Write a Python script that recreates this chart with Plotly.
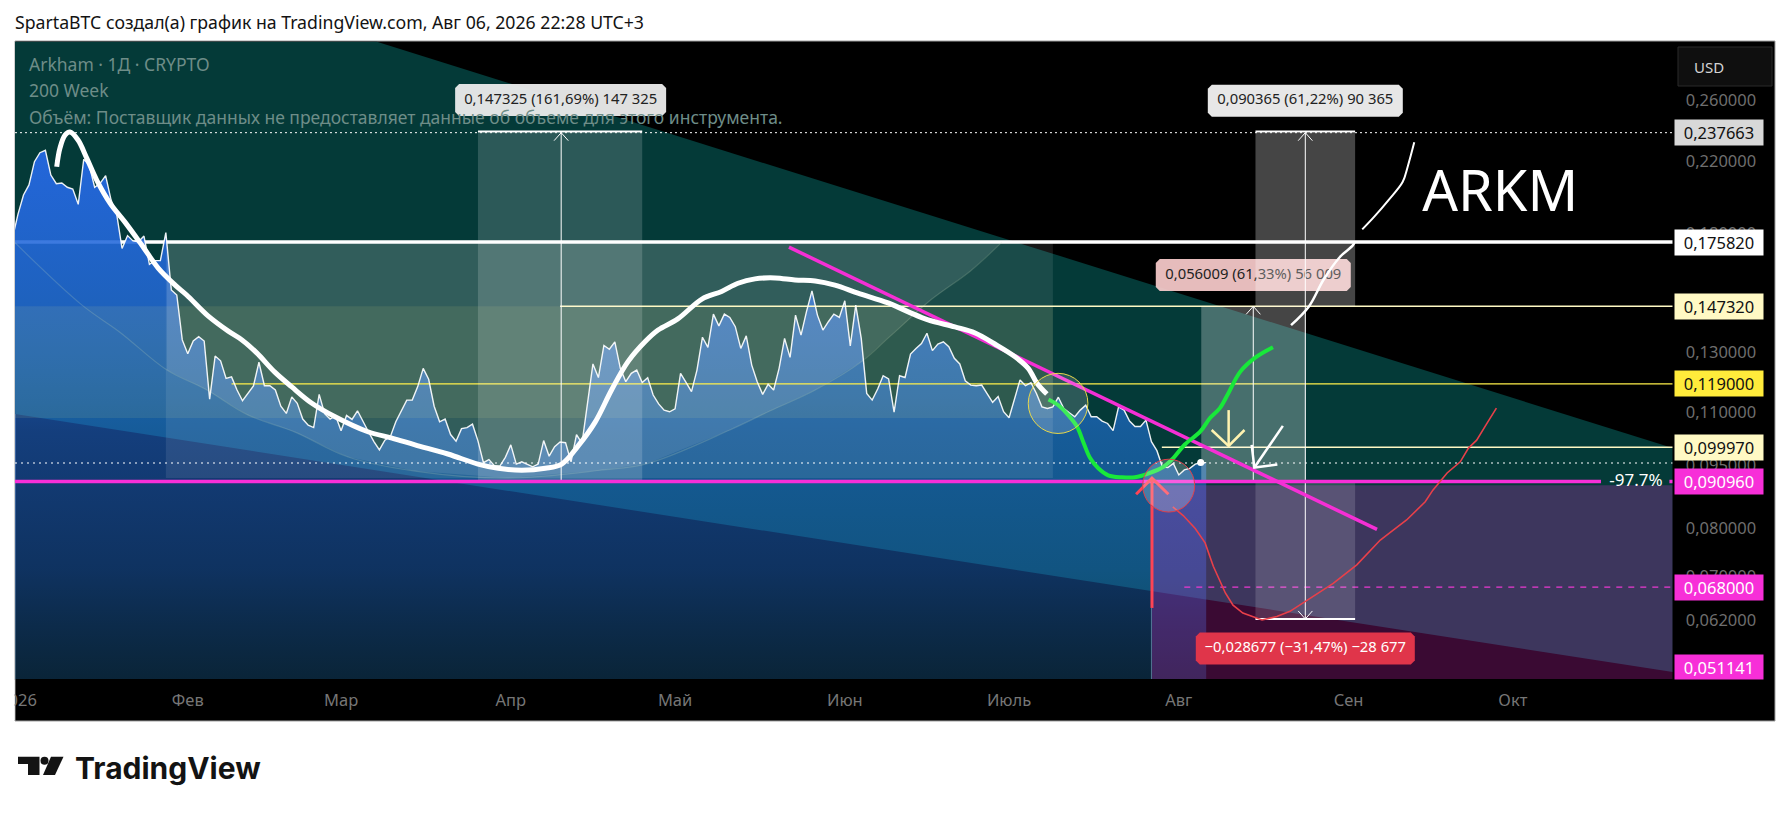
import math
import pandas as pd
import plotly.graph_objects as go

W, H = 1791, 814
PANE_L, PANE_R, PANE_T, PANE_B = 15, 1672.7, 41.5, 679
FONT = "Noto Sans"
START = pd.Timestamp("2026-01-01")

# daily close, starts Dec 31
close = [
    .1780, .1899, .2002, .2058, .2194, .2249, .2264, .2115, .2065, .2069, .2045, .2035, .1951, .2209, .2174,
    .2045, .2067, .2111, .1974, .1903, .1728, .1790, .1764, .1760, .1788, .1654, .1671, .1671, .1805, .1541,
    .1520, .1343, .1293, .1339, .1355, .1339, .1141, .1285, .1268, .1208, .1213, .1170, .1136, .1159, .1183,
    .1263, .1184, .1184, .1170, .1119, .1097, .1148, .1128, .1080, .1062, .1055, .1156, .1096, .1080, .1090,
    .1046, .1091, .1079, .1105, .1072, .1043, .1015, .0992, .1019, .1029, .1072, .1105, .1138, .1138,
    .1181, .1242, .1205, .1119, .1072, .1080, .1035, .1016, .1052, .1055, .1065, .1017, .0958, .0966, .0950,
    .0949, .0972, .1006, .0954, .0960, .0954, .0947, .0954, .1018, .0975, .1001, .1014, .1012, .0960, .1035,
    .1010, .1128, .1257, .1211, .1323, .1309, .1336, .1242, .1197, .1225, .1236, .1194, .1210, .1154, .1126,
    .1107, .1102, .1111, .1225, .1195, .1165, .1236, .1353, .1316, .1442, .1396, .1442, .1429, .1393, .1312,
    .1358, .1253, .1197, .1156, .1189, .1170, .1242, .1349, .1280, .1438, .1361, .1452, .1537,
    .1438, .1380, .1412, .1442, .1429, .1496, .1321, .1478, .1349, .1159, .1138, .1173, .1217, .1206, .1101,
    .1217, .1211, .1292, .1312, .1330, .1368, .1304, .1328, .1336, .1318, .1277, .1257, .1200, .1186, .1184,
    .1186, .1157, .1131, .1149, .1102, .1084, .1143, .1203, .1184, .1194, .1159, .1117, .1112, .1117, .1147,
    .1112, .1099, .1087, .1107, .1122, .1087, .1087, .1074, .1067, .1046, .1117, .1107, .1074, .1058, .1058,
    .1077, .1015, .0990, .0947, .0945, .0956, .0926, .0939, .0943, .0954, .0958, .0958,
]

# levels
top_level = .237663
white_level = .175820
cream_level = .147320
yellow_level = .119000
cream_low_level = .099970
pink_level = .090960
last_level = .0957
dash_level = .068000
floor_level = .051141
down_target = .062283

# drawings, x in days after Jan 1
white_day = [7.07, 7.67, 8.58, 9.5, 10.96, 12.55, 14.37, 16.8, 19.5, 22.6, 25.6, 28.7, 30.8, 34.7, 38.4, 40.9, 43.6,
             46.9, 50, 53.6, 57.9, 63.9, 68.3, 72.5, 78.5, 84, 87.7, 92, 96.3, 99.3, 102.3, 105.4, 108.4, 111.4,
             114.5, 116.9, 120.5, 124.9, 128.5, 131.5, 134.6, 138.3, 141.9, 145.6, 149.2, 153.4, 158.9, 162.6,
             166.2, 171.1, 174.8, 178.4, 182.1, 184.5, 186.1, 187.9]
white_price = [.2164, .2279, .2361, .2381, .2329, .2216, .2086, .1958, .1859, .1744, .1637, .1562, .1520, .1435, .1376,
               .1343, .1296, .1229, .1180, .1129, .1087, .1043, .1025, .1006, .0981, .0954, .0943, .0938, .0943, .0954,
               .1003, .1071, .1170, .1265, .1336, .1380, .1423, .1503, .1535, .1570, .1589, .1593, .1584, .1580, .1562,
               .1528, .1487, .1451, .1419, .1392, .1369, .1328, .1282, .1242, .1192, .1157]

sketch_day = [232.5, 235.8, 238.4, 241.5, 243.7, 244.1]
sketch_price = [.1399, .1474, .1584, .1690, .1740, .1758]
sketch2_day = [245.5, 247.7, 250.3, 252.9, 253.8, 255.0]
sketch2_price = [.1821, .1886, .1974, .2076, .2164, .2314]

green_day = [188.2, 190, 191.8, 193.4, 194.6, 195.8, 197.3, 199.1, 201.6, 204, 206.5, 209.2, 211, 213.1,
             215.9, 217.7, 219.5, 221, 223.2, 225.9, 229.2]
green_price = [.1140, .1122, .1092, .1058, .1012, .0970, .0943, .0925, .0920, .0920, .0930, .0947, .0970, .1007,
               .1043, .1083, .1113, .1158, .1230, .1278, .1316]

red_day = [210.9, 212.8, 215, 216.8, 218.3, 219.5, 220.5, 221.9, 223.7, 227.2, 229.9, 232.3, 235.4, 240.2, 244.5,
           248.8, 251.1, 253.6, 257, 258.4, 261, 263.4, 264.9, 266.4, 268.3, 270]
red_price = [.0848, .0828, .0799, .0768, .0720, .0693, .0669, .0647, .0633, .0621, .0627, .0636, .0656, .0687, .0723,
             .0774, .0795, .0818, .0860, .0888, .0931, .0960, .0997, .1019, .1068, .1113]

trend_day = [140.8, 248.2]
trend_price = [.1734, .0797]

arc_day = [-.55, 11.7, 18.6, 27.2, 34.2, 42, 50.6, 60.3, 72.5, 89.5, 106.3, 115.1, 130, 137.4, 145.6, 154.2, 159.3,
           166.9, 173.9, 179.7]
arc_price = [.1755, .1478, .1372, .1236, .1173, .1092, .1042, .0973, .0936, .0918, .0938, .0956, .1048, .1105, .1170,
             .1267, .1357, .1503, .1623, .1758]

channel_day = [-.55, 65.4, 302.2, 302.2, -.55]
channel_price = [.3055, .3055, .0997, .0538, .1095]

months = ["2026", "Фев", "Мар", "Апр", "Май", "Июн", "Июль", "Авг", "Сен", "Окт"]
month_start = ["2026-01-01", "2026-02-01", "2026-03-01", "2026-04-01", "2026-05-01", "2026-06-01", "2026-07-01",
               "2026-08-01", "2026-09-01", "2026-10-01"]
price_ticks = [.26, .22, .18, .15, .13, .11, .095, .08, .07, .062]
price_tick_text = ["0,260000", "0,220000", "0,180000", "0,150000", "0,130000", "0,110000", "0,095000", "0,080000",
                   "0,070000", "0,062000"]

y_top = .3055
y_bottom = .05279
day_left, day_right = -.55, 302.2
px_day = (PANE_R - PANE_L) / (day_right - day_left)
px_log = (PANE_B - PANE_T) / math.log(y_top / y_bottom)


def to_dates(days):
    return [(START + pd.Timedelta(days=d)).strftime("%Y-%m-%d %H:%M") for d in days]


fig = go.Figure()


def line(days, prices, color, width, dash=None, shape="linear"):
    fig.add_trace(go.Scatter(x=to_dates(days), y=prices, mode="lines", hoverinfo="skip",
                             line=dict(color=color, width=width, dash=dash, shape=shape)))


def poly(days, prices, color):
    fig.add_trace(go.Scatter(x=to_dates(days), y=prices, mode="lines", fill="toself", fillcolor=color,
                             line=dict(width=0), hoverinfo="skip"))


def rect(d0, d1, p0, p1, color):
    poly([d0, d1, d1, d0, d0], [p0, p0, p1, p1, p0], color)


def label(day, price, half_w, text, bg, fg, half_h=16, size=14.8):
    # box with clipped corners around the measure text
    dw, r = half_w / px_day, 4 / px_day
    up, dn = math.exp(half_h / px_log), math.exp((half_h - 4) / px_log)
    poly([day - dw + r, day + dw - r, day + dw, day + dw, day + dw - r, day - dw + r, day - dw, day - dw],
         [price * up, price * up, price * dn, price / dn, price / up, price / up, price / dn, price * dn], bg)
    fig.add_trace(go.Scatter(x=to_dates([day]), y=[price], mode="text", text=[text], hoverinfo="skip",
                             textposition="middle center", textfont=dict(family=FONT, size=size, color=fg)))


def head(day, price, up=True, color="white", width=1):
    f = math.exp(8 / px_log)
    tip = [price / f, price, price / f] if up else [price * f, price, price * f]
    line([day - 1.3, day, day + 1.3], tip, color, width)


poly(channel_day, channel_price, "#043a38")
line([-.55, 302.2], [white_level, white_level], "white", 3.5)

fig.add_trace(go.Scatter(
    x=to_dates(range(-1, len(close) - 1)) + to_dates([217, -1]), y=close + [.05, .05],
    mode="lines", fill="toself", line=dict(width=0), hoverinfo="skip",
    fillgradient=dict(type="vertical", start=.24, stop=.0528, colorscale=[
        [0, "rgba(37,104,228,.97)"], [.3, "rgba(35,105,215,.85)"], [.55, "rgba(40,125,250,.5)"],
        [.8, "rgba(35,120,230,.42)"], [1, "rgba(30,110,170,.33)"]]),
))

rect(27, 189, white_level, .0918, "rgba(255,255,255,.09)")
poly(arc_day[3:] + [27.2], arc_price[3:] + [white_level], "rgba(255,255,255,.1)")
line(arc_day, arc_price, "rgba(205,225,190,.2)", 1.2, shape="spline")
rect(-.55, 189, cream_level, .1083, "rgba(255,240,130,.09)")

line([-.55, 302.2], [top_level, top_level], "white", 1, dash="2px,3px")
line([-.55, 302.2], [last_level, last_level], "white", 1.2, dash="2px,4px")
line([39, 302.2], [yellow_level, yellow_level], "#fff04a", 1.3)
line([99, 302.2], [cream_level, cream_level], "#fff9c4", 1.5)
line([208.9, 302.2], [cream_low_level, cream_low_level], "#fff9c4", 1.5)
line([213, 302.2], [dash_level, dash_level], "#e83fcf", 1.2, dash="6px,6px")

rect(84, 114, top_level, pink_level, "rgba(255,255,255,.16)")
line([84, 114], [top_level * 1.003, top_level * 1.003], "white", 2)
line([84, 114], [pink_level, pink_level], "white", 2)
line([99.2, 99.2], [pink_level, top_level], "white", 1)
head(99.2, top_level)

fig.add_trace(go.Scatter(x=to_dates(range(-1, len(close) - 1)), y=close, mode="lines", hoverinfo="skip",
                         line=dict(color="rgba(255,255,255,.92)", width=1.4)))
fig.add_trace(go.Scatter(x=to_dates([216]), y=[close[-1]], mode="markers", hoverinfo="skip",
                         marker=dict(color="white", size=7)))

label(225.6, .1606, 97.5, "0,056009 (61,33%) 56 009", "rgba(255,208,208,.9)", "#222222")
rect(207, 302.2, .0900, .0500, "rgba(243,42,214,.24)")
line([207, 207], [.0500, .0642], "rgba(110,170,190,.6)", 1)

rect(216.1, 235.2, cream_level, pink_level, "rgba(255,255,255,.27)")
line([216.1, 235.2], [pink_level, pink_level], "white", 2)
line([225.6, 225.6], [pink_level, cream_level], "white", 1)
head(225.6, cream_level)

rect(226, 244.2, top_level, cream_level, "rgba(255,255,255,.27)")
rect(226, 244.2, pink_level, down_target, "rgba(255,255,255,.15)")
line([226, 244.2], [top_level * 1.003, top_level * 1.003], "white", 2)
line([226, 244.2], [pink_level, pink_level], "white", 2)
line([226, 244.2], [down_target, down_target], "white", 2)
line([235.1, 235.1], [down_target, top_level], "white", 1)
head(235.1, top_level)
head(235.1, down_target, up=False)

line([-.55, 289.1], [pink_level, pink_level], "#f72fd8", 3.5)
line([301.6, 302.2], [pink_level, pink_level], "#f72fd8", 3.5)

line(trend_day, trend_price, "#f52fd5", 3.5)
line(white_day, white_price, "white", 5, shape="spline")
line(green_day, green_price, "#18e83a", 4, shape="spline")
line(red_day, red_price, "#e8404a", 1.6)
line(sketch_day, sketch_price, "white", 2.5, shape="spline")
line(sketch2_day, sketch2_price, "white", 2, shape="spline")

line([207.1, 207.1], [.0642, .0918], "#ff4455", 3)
line([204.2, 207.1, 210.1], [.0878, .0918, .0878], "#ff4455", 3)
line([221.1, 221.1], [.1107, .1003], "#fff3b0", 2.5)
line([218, 221.1, 224], [.1048, .1003, .1048], "#fff3b0", 2.5)
line([231, 225.8], [.1060, .0945], "white", 2.5)
line([225.3, 225.8, 230], [.1006, .0945, .0953], "white", 2.5)

label(99.1, .2601, 105.5, "0,147325 (161,69%) 147 325", "rgba(236,236,236,.95)", "#222222")
label(235.1, .2595, 97.5, "0,090365 (61,22%) 90 365", "rgba(236,236,236,.98)", "#222222")
label(235.1, .0574, 109.5, "−0,028677 (−31,47%) −28 677", "#e0354a", "white")
fig.add_trace(go.Scatter(x=to_dates([295.5]), y=[pink_level], mode="text", text=["-97.7%"], hoverinfo="skip",
                         textposition="middle center", textfont=dict(family=FONT, size=17, color="white")))
fig.add_trace(go.Scatter(x=to_dates([270.7]), y=[.1991], mode="text", text=["ARKM"], hoverinfo="skip",
                         textposition="middle center", textfont=dict(family=FONT, size=56, color="white")))


def paper_x(x):
    return x / W


def paper_y(y):
    return 1 - y / H


shapes = [
    dict(type="rect", xref="paper", yref="paper", x0=paper_x(15), x1=paper_x(1775), y0=paper_y(41), y1=paper_y(721),
         fillcolor="black", line=dict(color="#a0a0a0", width=1), layer="below"),
    dict(type="rect", xref="paper", yref="paper", x0=0, x1=paper_x(14.5), y0=paper_y(680), y1=paper_y(720),
         fillcolor="white", line=dict(width=0), layer="above"),
    dict(type="rect", xref="paper", yref="paper", x0=paper_x(1678), x1=paper_x(1772), y0=paper_y(47), y1=paper_y(86),
         fillcolor="#0f0f0f", line=dict(color="#2a2a2a", width=1), layer="above"),
    dict(type="circle", xref="x", yref="y", x0=to_dates([184.5])[0], x1=to_dates([195.4])[0], y0=.1038, y1=.1225,
         fillcolor="rgba(255,255,255,.16)", line=dict(color="#e8d84a", width=1), layer="above"),
    dict(type="circle", xref="x", yref="y", x0=to_dates([205.4])[0], x1=to_dates([214.9])[0], y0=.0836, y1=.0967,
         fillcolor="rgba(255,255,255,.22)", line=dict(color="#e0404a", width=1), layer="above"),
]

annotations = []
price_boxes = [
    (top_level, "0,237663", "#d8d8d8", "#111111"),
    (white_level, "0,175820", "#ffffff", "#111111"),
    (cream_level, "0,147320", "#fff9c4", "#111111"),
    (yellow_level, "0,119000", "#ffeb3b", "#111111"),
    (cream_low_level, "0,099970", "#fff9c4", "#111111"),
    (pink_level, "0,090960", "#f72fd8", "white"),
    (dash_level, "0,068000", "#f72fd8", "white"),
]
for lvl, txt, bg, fg in price_boxes:
    annotations.append(dict(xref="paper", yref="y", x=paper_x(1674), y=math.log10(lvl), xanchor="left", yanchor="middle",
                            text=txt, showarrow=False, width=88, height=25, bgcolor=bg, borderpad=0, align="center",
                            font=dict(family=FONT, size=16.5, color=fg)))
annotations.append(dict(xref="paper", yref="paper", x=paper_x(1674), y=paper_y(667), xanchor="left", yanchor="middle",
                        text="0,051141", showarrow=False, width=88, height=24, bgcolor="#f72fd8", borderpad=0,
                        font=dict(family=FONT, size=16.5, color="white")))
annotations.append(dict(xref="paper", yref="paper", x=paper_x(1709), y=paper_y(66.7), xanchor="center", yanchor="middle",
                        text="USD", showarrow=False, font=dict(family=FONT, size=15, color="#d4d4d4")))
for txt, yy in [("Arkham · 1Д · CRYPTO", 64), ("200 Week", 90),
                ("Объём: Поставщик данных не предоставляет данные об объеме для этого инструмента.", 117)]:
    annotations.append(dict(xref="paper", yref="paper", x=paper_x(27), y=paper_y(yy), xanchor="left", yanchor="middle",
                            text=txt, showarrow=False, font=dict(family=FONT, size=17.5, color="#6e8d88")))
annotations.append(dict(xref="paper", yref="paper", x=paper_x(73), y=paper_y(768), xanchor="left", yanchor="middle",
                        text="<b>TradingView</b>", showarrow=False, font=dict(family="Inter", size=30, color="#131313")))

shapes += [
    dict(type="path", xref="paper", yref="paper",
         path="M {} {} L {} {} L {} {} L {} {} L {} {} L {} {} Z".format(
             paper_x(18), paper_y(756.7), paper_x(39.5), paper_y(756.7), paper_x(39.5), paper_y(775),
             paper_x(28), paper_y(775), paper_x(28), paper_y(764), paper_x(18), paper_y(764)),
         fillcolor="#131313", line=dict(width=0), layer="above"),
    dict(type="circle", xref="paper", yref="paper", x0=paper_x(40.5), x1=paper_x(48.5), y0=paper_y(756.7),
         y1=paper_y(764.7), fillcolor="#131313", line=dict(width=0), layer="above"),
    dict(type="path", xref="paper", yref="paper",
         path="M {} {} L {} {} L {} {} L {} {} Z".format(
             paper_x(51), paper_y(756.7), paper_x(63.5), paper_y(756.7), paper_x(55), paper_y(775),
             paper_x(43), paper_y(775)),
         fillcolor="#131313", line=dict(width=0), layer="above"),
]

fig.update_layout(
    width=W, height=H, margin=dict(l=0, r=0, t=0, b=0, autoexpand=False),
    showlegend=False, paper_bgcolor="white", plot_bgcolor="rgba(0,0,0,0)",
    title=dict(text="SpartaBTC создал(а) график на TradingView.com, Авг 06, 2026 22:28 UTC+3",
               xref="container", yref="container", x=15 / W, y=1 - 23 / H, xanchor="left", yanchor="middle",
               font=dict(family=FONT, size=17.7, color="#131313")),
    shapes=shapes, annotations=annotations,
    xaxis=dict(type="date", domain=[PANE_L / W, PANE_R / W], range=to_dates([day_left, day_right]),
               tickvals=month_start, ticktext=months, showgrid=False, zeroline=False, ticks="", showline=False,
               ticklabelstandoff=9, ticklabeloverflow="allow", tickfont=dict(family=FONT, size=16.5, color="#767676")),
    yaxis=dict(type="log", side="right", domain=[1 - PANE_B / H, 1 - PANE_T / H],
               range=[math.log10(y_bottom), math.log10(y_top)], tickvals=price_ticks, ticktext=price_tick_text,
               showgrid=False, zeroline=False, ticks="", showline=False, ticklabelstandoff=12,
               tickfont=dict(family=FONT, size=16.5, color="#6e6e6e")),
)

# plotly's page keeps the browser's default body margin
fig.write_html("out.html", config={"displayModeBar": False}, post_script="document.body.style.margin='0'")
